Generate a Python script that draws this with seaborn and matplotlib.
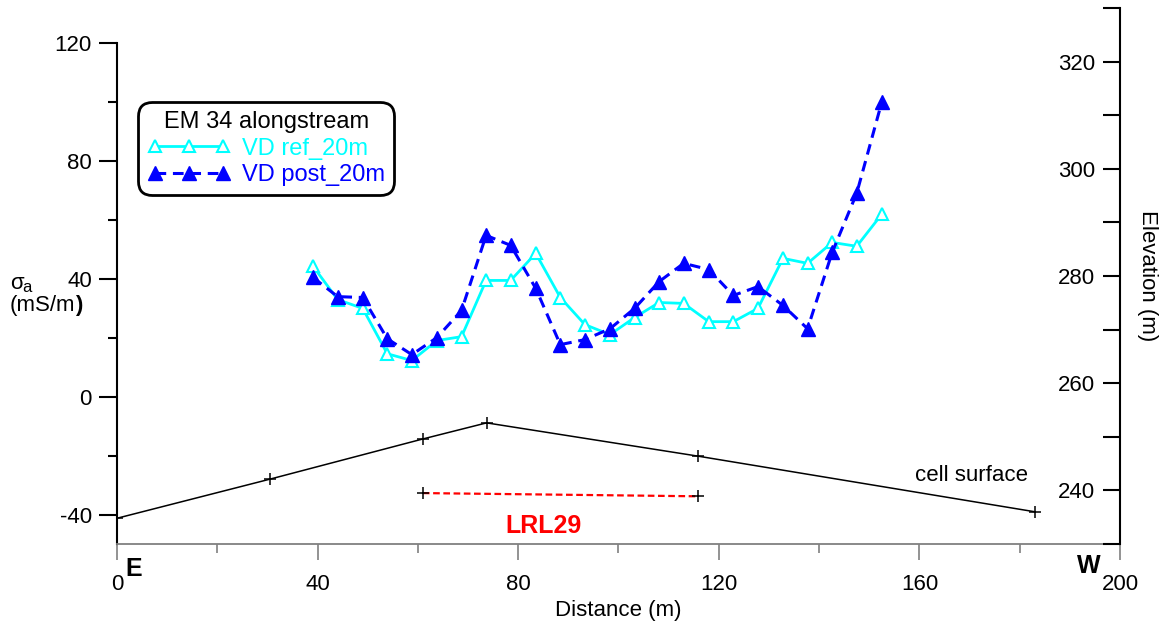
import matplotlib
matplotlib.use("Agg")
import matplotlib.pyplot as plt
import seaborn as sns
import pandas as pd
from matplotlib.lines import Line2D

# ---- data ----
distance = [39.1, 44.0, 49.0, 53.9, 58.8, 63.8, 68.7, 73.6, 78.5, 83.5, 88.4, 93.3,
            98.3, 103.2, 108.1, 113.0, 118.0, 122.9, 127.8, 132.8, 137.7, 142.6, 147.5, 152.5]
vd_ref = [44.3, 33.0, 30.0, 14.6, 12.3, 19.1, 20.4, 39.5, 39.5, 48.7, 33.7, 24.5,
          21.1, 26.9, 32.0, 31.7, 25.5, 25.5, 30.0, 47.0, 45.3, 52.4, 51.1, 62.0]
vd_post = [40.5, 34.0, 33.7, 19.7, 14.3, 20.1, 29.3, 54.8, 51.4, 36.8, 17.7, 19.4,
           23.1, 30.0, 39.1, 45.3, 43.2, 34.4, 37.4, 31.0, 23.1, 49.0, 69.1, 100.1]
surface_dist = [0, 30.5, 61.0, 73.7, 115.8, 183.1]
surface_elev = [234.8, 242.1, 249.6, 252.6, 246.4, 236.0]
lrl_dist = [61.0, 115.8]
lrl_elev = [239.5, 238.9]
x_major = [0, 40, 80, 120, 160, 200]
x_minor = [20, 60, 100, 140, 180]
y_major = [-40, 0, 40, 80, 120]
y_minor = [-20, 20, 60, 100]
elev_major = [240, 260, 280, 300, 320]
elev_minor = [230, 250, 270, 290, 310, 330]

sns.set_style("white")
plt.rcParams['font.family'] = ['Liberation Sans', 'DejaVu Sans']
plt.rcParams['axes.unicode_minus'] = False
plt.rcParams['text.color'] = 'black'
plt.rcParams['axes.labelcolor'] = 'black'
plt.rcParams['xtick.labelcolor'] = 'black'
plt.rcParams['ytick.labelcolor'] = 'black'
FS = 16

fig = plt.figure(figsize=(11.65, 6.22), dpi=100)
ax = fig.add_axes([0.1004, 0.1254, 0.861, 0.8617])

df = pd.DataFrame({"d": distance, "ref": vd_ref, "post": vd_post})
sns.lineplot(data=df, x="d", y="ref", ax=ax, sort=False, estimator=None,
             color="#00ffff", lw=2.0, marker="^", markersize=8.5,
             mfc="white", mec="#00ffff", mew=1.5, zorder=3)
sns.lineplot(data=df, x="d", y="post", ax=ax, sort=False, estimator=None,
             color="#0000ff", lw=2.2, linestyle=(0, (3.5, 2.2)), marker="^",
             markersize=9.5, mfc="#0000ff", mec="#0000ff", mew=1, zorder=4)

ax.set_xlim(0, 200)
ax.set_ylim(-50, 132)
ax.set_xticks(x_major)
ax.set_xticks(x_minor, minor=True)
ax.set_yticks(y_major)
ax.set_yticks(y_minor, minor=True)
ax.set_xlabel("Distance (m)", fontsize=FS, labelpad=4, color="black")
ax.set_ylabel("")
ax.tick_params(axis="x", which="major", direction="out", length=11.5, width=1.2,
               color="#808080", pad=10, labelsize=FS, labelcolor="black", bottom=True)
ax.tick_params(axis="x", which="minor", direction="out", length=6.5, width=1.2,
               color="#808080", bottom=True)
ax.tick_params(axis="y", which="major", direction="out", length=13, width=1.5,
               color="black", pad=5, labelsize=FS, labelcolor="black", left=True)
ax.tick_params(axis="y", which="minor", direction="out", length=6.5, width=1.5,
               color="black", left=True)
for s in ["top", "right"]:
    ax.spines[s].set_visible(False)
ax.spines["left"].set_color("black")
ax.spines["left"].set_linewidth(1.5)
ax.spines["left"].set_bounds(-50, 120)
ax.spines["bottom"].set_color("#808080")
ax.spines["bottom"].set_linewidth(1.3)

ax2 = ax.twinx()
ax2.plot(surface_dist, surface_elev, color="black", lw=1.1, marker="+",
         markersize=9, mew=1.1)
ax2.plot(lrl_dist, lrl_elev, color="red", lw=1.6, linestyle=(0, (3, 1.6)),
         marker="+", markersize=9, mec="black", mew=1.1)
ax2.set_ylim(230, 330)
ax2.set_yticks(elev_major)
ax2.set_yticks(elev_minor, minor=True)
ax2.tick_params(axis="y", which="major", direction="in", length=12, width=1.5,
                color="black", pad=-18, labelsize=FS, labelcolor="black", right=True)
ax2.tick_params(axis="y", which="minor", direction="in", length=12, width=1.5,
                color="black", right=True)
plt.setp(ax2.get_yticklabels(), ha="right")
for s in ["top", "left", "bottom"]:
    ax2.spines[s].set_visible(False)
ax2.spines["right"].set_color("black")
ax2.spines["right"].set_linewidth(1.5)
ax2.set_ylabel("Elevation (m)", fontsize=FS, rotation=-90, labelpad=24, color="black")

ax2.text(170.3, 242.8, "cell surface", fontsize=FS, ha="center", va="center")
ax2.text(85.1, 233.3, "LRL29", fontsize=18, color="red", fontweight="bold",
         ha="center", va="center")

fig.text(134 / 1165, 1 - 569 / 622, "E", fontsize=18, fontweight="bold",
         ha="center", va="center")
fig.text(1089 / 1165, 1 - 566 / 622, "W", fontsize=18, fontweight="bold",
         ha="center", va="center")
fig.text(10 / 1165, 1 - 289 / 622, "σ", fontsize=FS, ha="left", va="baseline")
fig.text(22 / 1165, 1 - 292 / 622, "a", fontsize=12, ha="left", va="baseline")
unit_txt = fig.text(10 / 1165, 1 - 305 / 622, "(mS/m", fontsize=FS, ha="left",
                    va="center")
renderer = fig.canvas.get_renderer()
bb = unit_txt.get_window_extent(renderer=renderer)
fig.text(bb.x1 / fig.bbox.width, 1 - 305 / 622, ")", fontsize=FS,
         fontweight="bold", ha="left", va="center")

handles = [
    Line2D([], [], color="#00ffff", lw=2.0, marker="^", markersize=9,
           mfc="white", mec="#00ffff", mew=1.5),
    Line2D([], [], color="#0000ff", lw=2.2, linestyle=(0, (3.5, 2.2)), marker="^",
           markersize=10, mfc="#0000ff", mec="#0000ff"),
]
leg = ax.legend(handles, ["VD ref_20m", "VD post_20m"], title="EM 34 alongstream",
                loc="upper left", bbox_to_anchor=(0.021, 0.825), borderaxespad=0,
                fontsize=17, title_fontsize=17, numpoints=3, handlelength=3.5,
                handletextpad=0.5, labelspacing=0.18, borderpad=0.4,
                fancybox=True, framealpha=1, edgecolor="black")
leg.get_frame().set_linewidth(2)
leg.get_frame().set_boxstyle("round,pad=0,rounding_size=0.6")
leg.get_texts()[0].set_color("#00ffff")
leg.get_texts()[1].set_color("#0000ff")
leg.get_title().set_color("black")

fig.savefig("out.png", dpi=100)
